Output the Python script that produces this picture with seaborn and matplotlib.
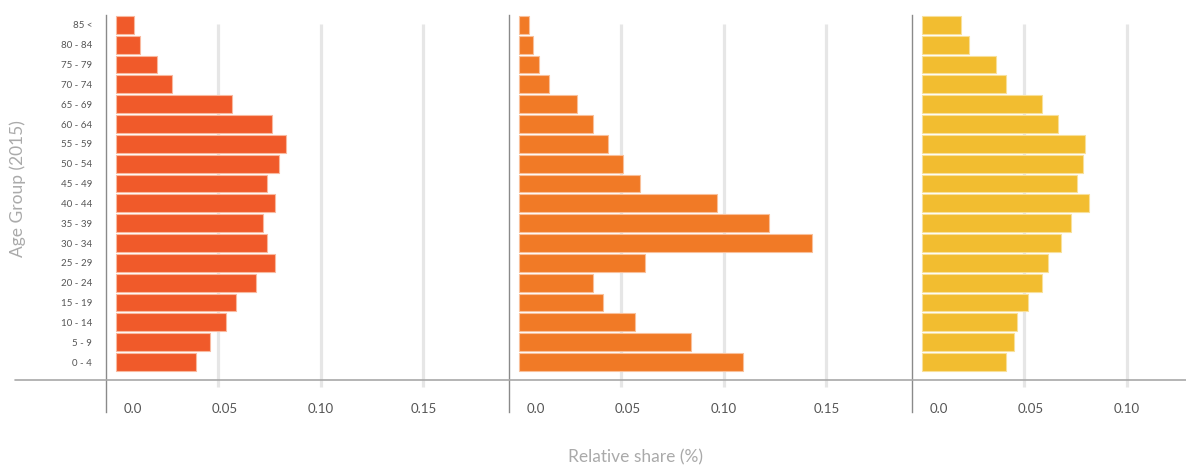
import pandas as pd
import matplotlib.pyplot as plt
import matplotlib.transforms as mtransforms
from matplotlib.lines import Line2D
import seaborn as sns

# age groups, top to bottom
ages = ['85 <', '80 - 84', '75 - 79', '70 - 74', '65 - 69', '60 - 64', '55 - 59',
        '50 - 54', '45 - 49', '40 - 44', '35 - 39', '30 - 34', '25 - 29',
        '20 - 24', '15 - 19', '10 - 14', '5 - 9', '0 - 4']

# relative share per panel
share_left = [0.0088, 0.0119, 0.0200, 0.0275, 0.0565, 0.0760, 0.0830, 0.0794, 0.0739,
              0.0775, 0.0720, 0.0739, 0.0775, 0.0683, 0.0587, 0.0539, 0.0457, 0.0392]
share_mid = [0.0049, 0.0067, 0.0098, 0.0145, 0.0283, 0.0363, 0.0436, 0.0506, 0.0590,
             0.0968, 0.1221, 0.1428, 0.0616, 0.0363, 0.0410, 0.0569, 0.0839, 0.1093]
share_right = [0.0193, 0.0230, 0.0364, 0.0411, 0.0587, 0.0665, 0.0798, 0.0785, 0.0759,
               0.0816, 0.0728, 0.0678, 0.0617, 0.0587, 0.0519, 0.0463, 0.0451, 0.0411]

tick_vals = [0.0, 0.05, 0.10, 0.15]
tick_text = ['0.0', '0.05', '0.10', '0.15']

colors = ['#f05a2a', '#f17a26', '#f2bd30']
edges = ['#f9b99f', '#f9c09a', '#f8e09a']

sns.set_style('white')
plt.rcParams['font.family'] = ['Lato', 'DejaVu Sans']

W, H = 1186, 466
fig = plt.figure(figsize=(W / 100, H / 100), dpi=100)

# panel boxes in pixels: left, right
panels = [(106, 509, share_left), (509, 912, share_mid), (912, 1186, share_right)]
top_px, bot_px = 15, 412
scale = 2050.0  # px per unit
x0 = -0.0048

for i, (l, r, vals) in enumerate(panels):
    ax = fig.add_axes([l / W, 1 - bot_px / H, (r - l) / W, (bot_px - top_px) / H])
    df = pd.DataFrame({'age': ages, 'share': vals})
    xmax = x0 + (r - l) / scale
    ticks = [t for t in tick_vals if t < xmax - 0.01]
    grid = [t for t in ticks if t > 0]
    ax.vlines(grid, -0.05, 18.26, color='#e6e6e6', lw=2.3, zorder=0)
    sns.barplot(data=df, x='share', y='age', order=ages, ax=ax, color=colors[i],
                saturation=1, orient='h', width=0.9, edgecolor=edges[i],
                linewidth=0.8, zorder=2)
    ax.set_xlim(x0, xmax)
    ax.set_ylim(19.52, -0.5)
    ax.set_xlabel('')
    ax.set_ylabel('')
    for s in ['top', 'right', 'bottom']:
        ax.spines[s].set_visible(False)
    ax.spines['left'].set_color('#8a8a8a')
    ax.spines['left'].set_linewidth(1.0)
    ax.set_xticks(ticks)
    ax.set_xticklabels(tick_text[:len(ticks)])
    ax.tick_params(axis='x', length=0, pad=-6.5, labelsize=9.5, labelcolor='#555555')
    # small offsets of the first labels as in the original
    for lbl, dx in zip(ax.get_xticklabels(), [17, 6, 0, 0]):
        lbl.set_transform(lbl.get_transform() +
                          mtransforms.ScaledTranslation(dx / 100, 0, fig.dpi_scale_trans))
    if i == 0:
        ax.tick_params(axis='y', length=0, pad=10, labelsize=7, labelcolor='#555555')
    else:
        ax.set_yticks([])
    ax.set_facecolor('none')

# long horizontal baseline across all panels
fig.add_artist(Line2D([15 / W, 1], [1 - 380 / H] * 2, transform=fig.transFigure,
                      color='#a8a8a8', lw=1.2))

fig.text(18 / W, 1 - 189 / H, 'Age Group (2015)', rotation=90, ha='center', va='center',
         fontsize=12.5, color='#aaaaaa')
fig.text(635 / W, 1 - 457 / H, 'Relative share (%)', ha='center', va='center',
         fontsize=12.5, color='#aaaaaa')

fig.savefig('out.png', dpi=100)
